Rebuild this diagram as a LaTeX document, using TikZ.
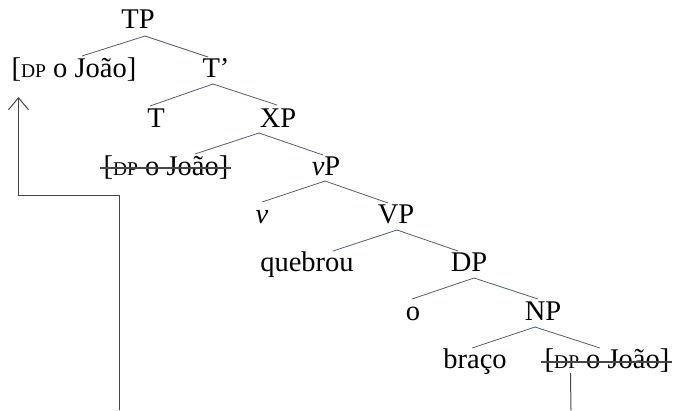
\documentclass[tikz,border=0pt]{standalone}
\usepackage{fontspec}
\setmainfont{Liberation Serif}
\usetikzlibrary{arrows.meta}
\definecolor{treeline}{RGB}{80,95,110}
\definecolor{arrowline}{RGB}{70,70,70}
\newcommand{\dpsc}{{\fontsize{19.5}{19.5}\selectfont DP}}
\tikzset{
  lab/.style={inner sep=0pt, anchor=base, font=\fontsize{28.5}{31}\selectfont, text=black},
  branch/.style={draw=treeline, line width=0.8pt},
  strike/.style={draw=arrowline, line width=1.1pt},
  movearrow/.style={draw=arrowline, line width=1pt},
}
\begin{document}
\begin{tikzpicture}[x=1pt,y=-1pt]
\useasboundingbox (0,0) rectangle (674,410);
% nodes
\node[lab] (tp)    at (138,28)  {TP};
\node[lab] (dp1)   at (74,77)   {[\dpsc{} o João]};
\node[lab] (tbar)  at (216,77)  {T’};
\node[lab] (t)     at (156,127) {T};
\node[lab] (xp)    at (278,127) {XP};
\node[lab] (dp2)   at (166,175) {[\dpsc{} o João]};
\node[lab] (vp)    at (326,175) {\textit{v}P};
\node[lab] (v)     at (262,223) {\textit{v}};
\node[lab] (VP)    at (396,223) {VP};
\node[lab] (queb)  at (307,271) {quebrou};
\node[lab] (dp)    at (469,271) {DP};
\node[lab] (o)     at (413,320) {o};
\node[lab] (np)    at (543,320) {NP};
\node[lab] (braco) at (475,368) {braço};
\node[lab] (dp3)   at (607,368) {[\dpsc{} o João]};
% branches
\draw[branch] ([xshift=7pt,yshift=-8pt]tp.base) -- ([xshift=8pt,yshift=21pt]dp1.base);
\draw[branch] ([xshift=7pt,yshift=-8pt]tp.base) -- ([xshift=-8pt,yshift=20pt]tbar.base);
\draw[branch] ([xshift=-3pt,yshift=-7pt]tbar.base) -- ([xshift=-6pt,yshift=21pt]t.base);
\draw[branch] ([xshift=-3pt,yshift=-7pt]tbar.base) -- ([xshift=-1pt,yshift=22pt]xp.base);
\draw[branch] ([xshift=-19pt,yshift=-6pt]xp.base) -- ([xshift=29pt,yshift=21pt]dp2.base);
\draw[branch] ([xshift=-19pt,yshift=-6pt]xp.base) -- ([xshift=-3pt,yshift=20pt]vp.base);
\draw[branch] ([xshift=-1pt,yshift=-6pt]vp.base) -- ([xshift=0pt,yshift=21pt]v.base);
\draw[branch] ([xshift=-1pt,yshift=-6pt]vp.base) -- ([xshift=-8pt,yshift=20pt]VP.base);
\draw[branch] ([xshift=1pt,yshift=-7pt]VP.base) -- ([xshift=26pt,yshift=20pt]queb.base);
\draw[branch] ([xshift=1pt,yshift=-7pt]VP.base) -- ([xshift=-11pt,yshift=20pt]dp.base);
\draw[branch] ([xshift=5pt,yshift=-7pt]dp.base) -- ([xshift=-1pt,yshift=21pt]o.base);
\draw[branch] ([xshift=5pt,yshift=-7pt]dp.base) -- ([xshift=-5pt,yshift=21pt]np.base);
\draw[branch] ([xshift=-8pt,yshift=-7pt]np.base) -- ([xshift=-3pt,yshift=20pt]braco.base);
\draw[branch] ([xshift=-8pt,yshift=-7pt]np.base) -- ([xshift=-7pt,yshift=20pt]dp3.base);
% strike-throughs
\draw[strike] ([xshift=-3pt,yshift=7pt]dp2.base west) -- ([xshift=2pt,yshift=7pt]dp2.base east);
\draw[strike] ([xshift=-3pt,yshift=6pt]dp3.base west) -- ([xshift=2pt,yshift=6pt]dp3.base east);
% movement arrow
\coordinate (a0) at (119,410);
\draw[movearrow, -{Straight Barb[length=12pt,width=20pt]}] (a0) -- ++(0,-215) -| ([xshift=7pt,yshift=-20pt]dp1.base west);
\coordinate (b0) at (571,410);
\draw[movearrow] ([xshift=26pt,yshift=-5pt]dp3.base west) -- (b0);
\end{tikzpicture}
\end{document}
